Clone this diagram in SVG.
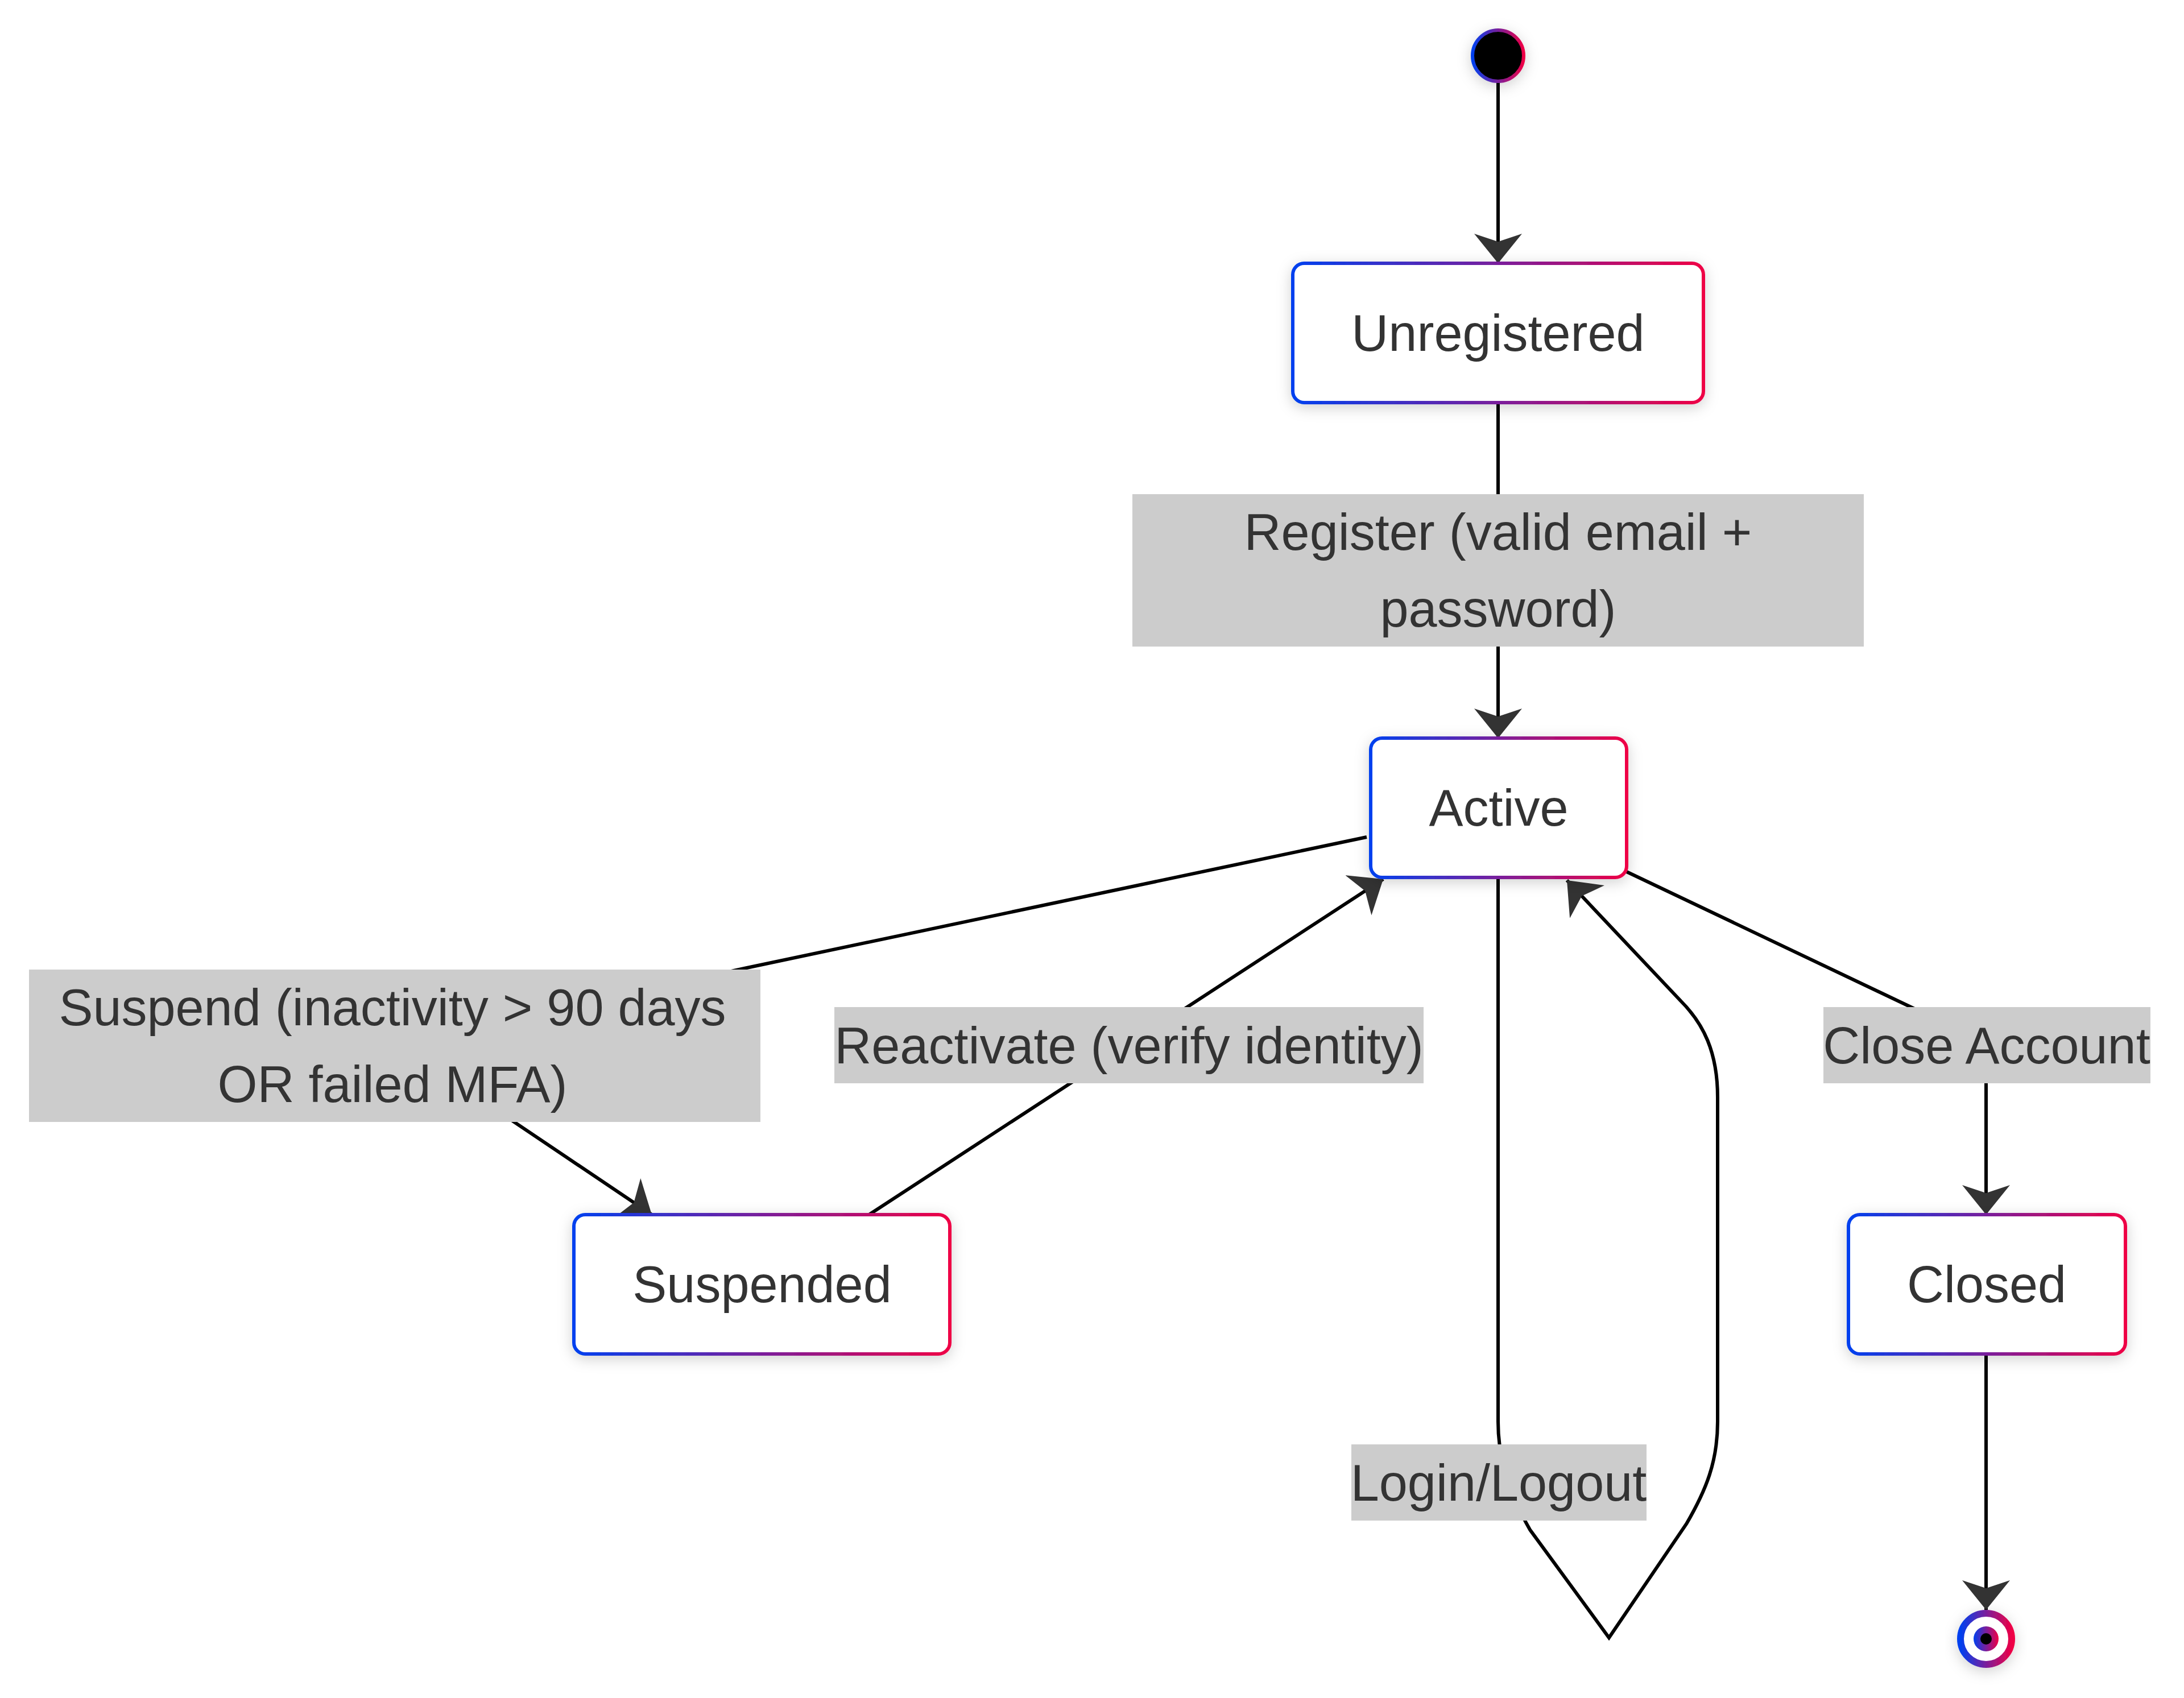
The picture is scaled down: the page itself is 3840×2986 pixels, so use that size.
<svg xmlns="http://www.w3.org/2000/svg" width="3840" height="2986" viewBox="0 0 3840 2986">
<defs>
<linearGradient id="grad" x1="0" y1="0" x2="1" y2="0">
<stop offset="0" stop-color="#0040ef"/>
<stop offset="0.5" stop-color="#7a1f9c"/>
<stop offset="1" stop-color="#ef0045"/>
</linearGradient>
<filter id="shadow" x="-30%" y="-30%" width="160%" height="170%">
<feDropShadow dx="0" dy="6" stdDeviation="12" flood-color="#000" flood-opacity="0.18"/>
</filter>
<marker id="arrow" viewBox="0 0 52 84" refX="52" refY="42" markerWidth="52" markerHeight="84" markerUnits="userSpaceOnUse" orient="auto">
<path d="M0,0 L52,42 L0,84 L14,42 Z" fill="#333"/>
</marker>
<style>
.node rect{fill:#fff;stroke:url(#grad);stroke-width:6;filter:url(#shadow)}
.ntext{font-family:"Liberation Sans",Arial,sans-serif;font-size:90px;fill:#333;text-anchor:middle}
.edge{fill:none;stroke:#000;stroke-width:6}
.lbl rect{fill:#cccccc}
.ltext{font-family:"Liberation Sans",Arial,sans-serif;font-size:90px;fill:#333;text-anchor:middle}
</style>
</defs>
<rect width="3840" height="2986" fill="#fff"/>

<g id="connectors">
<path class="edge" d="M2634,143 L2634,463" marker-end="url(#arrow)"/>
<path class="edge" d="M2634,708 L2634,1298" marker-end="url(#arrow)"/>
<path class="edge" d="M2403,1472 L1313,1702 C1000,1768 780,1900 901,1971 L1146,2136" marker-end="url(#arrow)"/>
<path class="edge" d="M1528,2136 L2432,1546" marker-end="url(#arrow)"/>
<path class="edge" d="M2860,1533 L3360,1771 C3450,1814 3492,1840 3492,1905 L3492,2136" marker-end="url(#arrow)"/>
<path class="edge" d="M2634,1543 L2634,2500 C2634,2560 2650,2620 2690,2690 L2829,2880 L2965,2680 C3000,2620 3020,2570 3020,2500 L3020,1930 C3020,1850 2995,1800 2955,1760 L2755,1548" marker-end="url(#arrow)"/>
<path class="edge" d="M3492,2381 L3492,2831" marker-end="url(#arrow)"/>
</g>

<g id="labels">
<g class="lbl" id="label-register">
<rect x="1991" y="869" width="1286" height="268"/>
<text class="ltext" x="2634" y="967">Register (valid email +</text>
<text class="ltext" x="2634" y="1102">password)</text>
</g>
<g class="lbl" id="label-suspend">
<rect x="51" y="1705" width="1286" height="268"/>
<text class="ltext" x="690" y="1803">Suspend (inactivity &gt; 90 days</text>
<text class="ltext" x="690" y="1938">OR failed MFA)</text>
</g>
<g class="lbl" id="label-reactivate">
<rect x="1467" y="1771" width="1036" height="134"/>
<text class="ltext" x="1985" y="1870">Reactivate (verify identity)</text>
</g>
<g class="lbl" id="label-close">
<rect x="3206" y="1771" width="575" height="134"/>
<text class="ltext" x="3493" y="1870">Close Account</text>
</g>
<g class="lbl" id="label-login">
<rect x="2376" y="2540" width="519" height="134"/>
<text class="ltext" x="2635" y="2639">Login/Logout</text>
</g>
</g>

<g id="start">
<circle cx="2634" cy="98" r="45" fill="#000" stroke="url(#grad)" stroke-width="6" filter="url(#shadow)"/>
</g>
<g id="Unregistered" class="node">
<rect x="2273" y="463" width="722" height="245" rx="20"/>
<text class="ntext" x="2634" y="617">Unregistered</text>
</g>
<g id="Active" class="node">
<rect x="2410" y="1298" width="450" height="245" rx="20"/>
<text class="ntext" x="2635" y="1452">Active</text>
</g>
<g id="Suspended" class="node">
<rect x="1009" y="2136" width="661" height="245" rx="20"/>
<text class="ntext" x="1340" y="2290">Suspended</text>
</g>
<g id="Closed" class="node">
<rect x="3250" y="2136" width="487" height="245" rx="20"/>
<text class="ntext" x="3493" y="2290">Closed</text>
</g>
<g id="end">
<circle cx="3492" cy="2882" r="45" fill="#fff" stroke="url(#grad)" stroke-width="12" filter="url(#shadow)"/>
<circle cx="3492" cy="2882" r="22" fill="url(#grad)"/>
<circle cx="3492" cy="2882" r="10" fill="#000"/>
</g>
</svg>
